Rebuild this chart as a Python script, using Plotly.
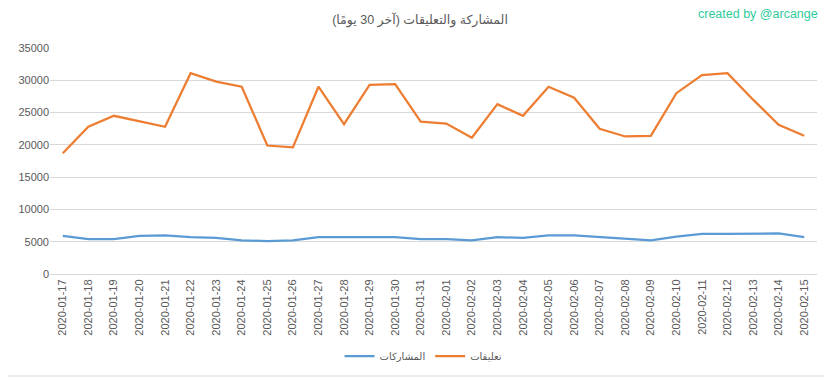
import plotly.graph_objects as go

dates = ["2020-01-17","2020-01-18","2020-01-19","2020-01-20","2020-01-21","2020-01-22","2020-01-23",
         "2020-01-24","2020-01-25","2020-01-26","2020-01-27","2020-01-28","2020-01-29","2020-01-30",
         "2020-01-31","2020-02-01","2020-02-02","2020-02-03","2020-02-04","2020-02-05","2020-02-06",
         "2020-02-07","2020-02-08","2020-02-09","2020-02-10","2020-02-11","2020-02-12","2020-02-13",
         "2020-02-14","2020-02-15"]

posts = [5900, 5400, 5400, 5900, 6000, 5700, 5600, 5200, 5100, 5200, 5700, 5700, 5700, 5700, 5400,
         5400, 5200, 5700, 5600, 6000, 6000, 5700, 5400, 5200, 5800, 6200, 6200, 6300, 6300, 5700]

comments = [18700, 22800, 24500, 23700, 22800, 31100, 29800, 29000, 19900, 19600, 29000, 23200, 29300,
            29400, 23600, 23300, 21100, 26300, 24500, 29000, 27300, 22500, 21300, 21400, 28000, 30800,
            31100, 27000, 23100, 21400]

y_ticks = [0, 5000, 10000, 15000, 20000, 25000, 30000, 35000]

title = "المشاركة والتعليقات (آخر 30 يومًا)"
name_posts = "المشاركات"
name_comments = "تعليقات"
credit = "created by @arcange"

FONT = "Liberation Sans, DejaVu Sans, sans-serif"
GRAY = "#595959"

fig = go.Figure()
fig.add_trace(go.Scatter(x=dates, y=posts, name=name_posts, mode="lines",
                         line=dict(color="#5B9BD5", width=2.25)))
fig.add_trace(go.Scatter(x=dates, y=comments, name=name_comments, mode="lines",
                         line=dict(color="#ED7D31", width=2.25)))

fig.update_layout(
    width=824, height=370,
    margin=dict(l=42, r=15, t=40, b=104, autoexpand=False),
    paper_bgcolor="white", plot_bgcolor="white",
    font=dict(family=FONT, color=GRAY, size=11),
    title=dict(text=title, x=0.5, xanchor="center", y=0.9676, yanchor="middle",
               font=dict(size=12.5, color=GRAY, family=FONT)),
    showlegend=True,
    legend=dict(orientation="h", x=0.487, xanchor="center", y=-0.363, yanchor="middle",
                font=dict(size=10, color=GRAY), itemwidth=30, traceorder="normal"),
    xaxis=dict(type="category", range=[-0.5, len(dates) - 0.5], tickangle=-90,
               showgrid=False, showline=True, linecolor="#D9D9D9", ticks="",
               tickfont=dict(size=11, color=GRAY)),
    yaxis=dict(range=[0, 35000], tickvals=y_ticks, showgrid=True, gridcolor="#D9D9D9",
               zeroline=False, showline=False, ticks="", tickformat="d",
               tickfont=dict(size=11, color=GRAY)),
    annotations=[dict(text=credit, xref="paper", yref="paper", x=1.004, y=1.15,
                      xanchor="right", yanchor="middle", showarrow=False,
                      font=dict(size=12.5, color="#2ECC9A", family=FONT))],
    shapes=[dict(type="rect", xref="paper", yref="paper", x0=-0.07, x1=1.0183, y0=-0.4513, y1=1.2,
                 line=dict(color="#D9D9D9", width=1), layer="below")],
)

fig.write_html("out.html")
